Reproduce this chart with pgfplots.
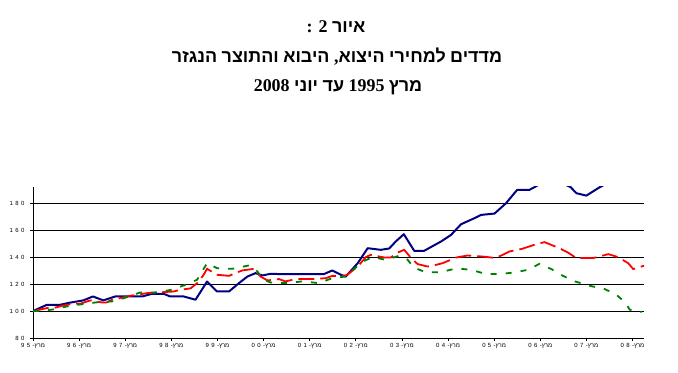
\documentclass[border=0pt]{standalone}
\usepackage{pgfplots}
\pgfplotsset{compat=1.18}
\usepackage{fontspec}
\setmainfont{Liberation Serif}
\newfontfamily\hebsans[Script=Hebrew]{Liberation Sans}
\newfontfamily\tickfont[LetterSpace=40]{Liberation Sans}
\TeXXeTstate=1
\definecolor{navyline}{RGB}{0,0,128}
\definecolor{redline}{RGB}{255,0,0}
\definecolor{greenline}{RGB}{0,128,0}
\newcommand{\xl}[1]{#1-{\hebsans\beginR מרץ\endR}}
\newcommand{\R}[1]{{\hebsans\bfseries\beginR #1\endR}}
\begin{document}
\begin{tikzpicture}
\begin{axis}[
  at={(0,0)}, anchor=south west,
  scale only axis, width=611bp, height=151bp,
  xmin=0, xmax=159, ymin=80, ymax=192,
  ytick={80,100,...,180},
  ymajorgrids, grid style={black, line width=0.8pt},
  axis x line*=bottom, axis y line*=left,
  axis line style={black, line width=0.8pt, -},
  tick style={black, line width=0.6pt},
  major tick length=3bp, tick align=outside,
  xtick={0,12,...,156},
  xticklabels={\xl{95},\xl{96},\xl{97},\xl{98},\xl{99},\xl{00},\xl{01},\xl{02},\xl{03},\xl{04},\xl{05},\xl{06},\xl{07},\xl{08}},
  /pgf/number format/assume math mode=true,
  ticklabel style={font=\tickfont\fontsize{6}{7}\selectfont},
  xticklabel style={yshift=1bp},
  yticklabel style={xshift=-2bp},
  clip=true,
]
\addplot[navyline, line width=2pt, line join=round] coordinates {
(0,100)(3.6,104.6)(7,104.6)(9.2,106)(13.1,107.9)(15.6,110.8)(18.3,107.9)(21.4,110.8)
(28.4,110.8)(31,112.8)(34,112.8)(35.7,110.8)(39.2,110.8)(42.3,108.4)(45.3,121.9)
(47.9,114.5)(51,114.5)(53.6,120.7)(55.8,125.6)(57.9,128.1)(59.7,126.4)(61.8,127.6)
(64.4,127.4)(75.7,127.4)(77.9,130.1)(80.1,126.9)(81.4,125.6)(84.5,135.5)(87.1,146.6)
(90.5,145.4)(92.7,146.4)(94.4,151.6)(96.5,157)(99.2,144.7)(101.8,144.7)(106.2,151.6)
(108.8,156.5)(111.4,164.4)(114.9,168.9)(116.6,171.3)(120.1,172.3)(123.1,180)(126,189.9)
(129.2,189.9)(130.5,191.9)(133,196)(136,197)(139.9,191.9)(141.4,187.4)(144,185.6)
(147.5,191.9)(151,197)(155,200)(159,202)
};
\addplot[redline, line width=1.8pt, dash pattern=on 16bp off 6bp] coordinates {
(0,100)(1.8,101)(3.6,102.2)(5.3,102.2)(7.9,104.1)(10.5,105.4)(12.3,105.4)(14.9,107.9)
(16.2,107.1)(17.9,106.4)(19.2,106.4)(20.9,108.9)(22.7,109.6)(25.3,111.3)(29.7,113.3)
(32.7,113.8)(36.6,114.5)(38.4,115.8)(41,116.8)(42.7,120.7)(44.3,126.4)(45.3,131.3)
(47.9,126.9)(51,126.1)(54.4,130.1)(57.5,131.3)(59.2,125.6)(61,122.7)(64,123.7)
(65.7,122)(68.4,123.7)(73.1,123.7)(76.2,124.4)(77.9,126.1)(80.1,125.6)(81.8,126.9)
(84.5,133)(86.6,140)(87.9,141.7)(91.4,139.7)(93.1,139.7)(94.9,143.4)(96.6,145.4)
(98.4,139.3)(100.1,134.8)(102.7,133)(104,133.6)(106.6,135.5)(110.1,139.7)(113.1,141.2)
(117.1,140.4)(120.5,139.3)(124,144.2)(127.1,146)(131,149.6)(133.1,151.1)(137,146.6)
(139.2,143.4)(141.4,139.3)(145.8,139.3)(149.7,142.2)(151.8,140.4)(153.1,138.5)
(154.9,135.5)(156.2,131.1)(159.2,133.8)
};
\addplot[greenline, line width=1.8pt, dash pattern=on 6bp off 9bp] coordinates {
(0,100)(1.4,100)(4.9,101)(8.8,103.4)(13.1,105.2)(17,106.6)(20.5,107.1)(24.4,110.2)
(27.9,113.8)(31.8,113.8)(36.2,115.8)(39.7,119.5)(42.7,123.2)(44,129.4)(45.3,135.5)
(47.9,131.8)(51.8,131.3)(56.2,133.8)(58.4,129.4)(59.7,123.7)(61.8,121.2)(66.2,120.7)
(70.1,122)(74.4,120.7)(77.9,124.4)(81.4,125.6)(83.6,131.3)(85.8,136.7)(88.4,140)
(91.8,138)(95.3,141)(97.5,138)(99.1,132.3)(102.3,128.6)(106.2,128.9)(110.1,131.6)
(114,130.6)(117.9,127.4)(121.4,127.4)(125.3,128.6)(128.8,130.6)(131.8,135)(134.9,131.1)
(137.9,126.1)(141,122)(144.9,118.7)(148.8,116.3)(151.8,112.1)(154,106.7)(155.3,101)
(158.4,99.3)
};
\end{axis}
\path[use as bounding box] (-33bp,-35bp) rectangle (645bp,338bp);
\node[anchor=base, font=\bfseries\fontsize{18}{21}\selectfont] at (303bp,305bp) {: 2 \R{איור}};
\node[anchor=base, font=\bfseries\fontsize{18}{21}\selectfont] at (304bp,275bp) {\R{הנגזר} \R{והתוצר} \R{היבוא} ,\R{היצוא} \R{למחירי} \R{מדדים}};
\node[anchor=base, font=\bfseries\fontsize{18}{21}\selectfont] at (305bp,246bp) {2008 \R{יוני} \R{עד} 1995 \R{מרץ}};
\end{tikzpicture}
\end{document}
